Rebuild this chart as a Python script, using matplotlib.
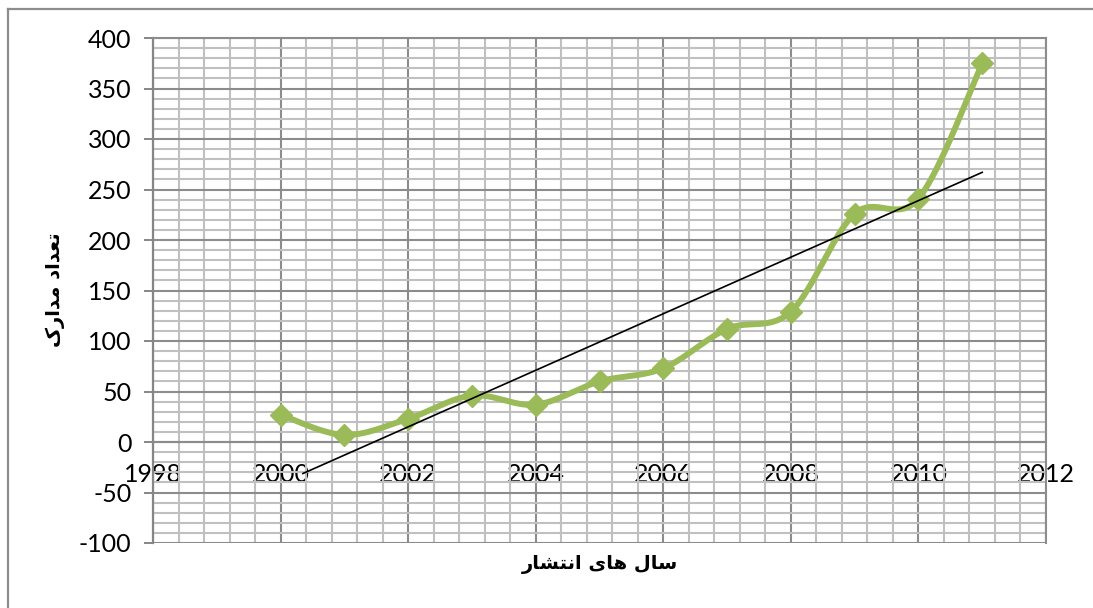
import matplotlib
matplotlib.use('Agg')
import matplotlib.pyplot as plt
from matplotlib.lines import Line2D
from matplotlib.ticker import MultipleLocator
import numpy as np

plt.rcParams['axes.unicode_minus'] = False

years = [2000, 2001, 2002, 2003, 2004, 2005, 2006, 2007, 2008, 2009, 2010, 2011]
docs = [27, 7, 23, 46, 37, 60, 73, 112, 129, 226, 241, 375]
trend_x0 = 2000.35  # visible start of the trendline in the picture

xlabel_text = 'سال های انتشار'
ylabel_text = 'تعداد مدارک'

green = '#9BBB59'
major_c = '#8C8C8C'
minor_c = '#C0C0C0'

# minimal Persian shaping: matplotlib has no text shaping, so use presentation forms
forms = {
    'ت': ('\uFE95', '\uFE96', '\uFE97', '\uFE98'),
    'ع': ('\uFEC9', '\uFECA', '\uFECB', '\uFECC'),
    'د': ('\uFEA9', '\uFEAA', None, None),
    'ا': ('\uFE8D', '\uFE8E', None, None),
    'م': ('\uFEE1', '\uFEE2', '\uFEE3', '\uFEE4'),
    'ر': ('\uFEAD', '\uFEAE', None, None),
    'ک': ('\uFB8E', '\uFB8F', '\uFB90', '\uFB91'),
    'س': ('\uFEB1', '\uFEB2', '\uFEB3', '\uFEB4'),
    'ل': ('\uFEDD', '\uFEDE', '\uFEDF', '\uFEE0'),
    'ه': ('\uFEE9', '\uFEEA', '\uFEEB', '\uFEEC'),
    'ی': ('\uFBFC', '\uFBFD', '\uFBFE', '\uFBFF'),
    'ن': ('\uFEE5', '\uFEE6', '\uFEE7', '\uFEE8'),
    'ش': ('\uFEB5', '\uFEB6', '\uFEB7', '\uFEB8'),
}


def shape(text):
    out = []
    for i, ch in enumerate(text):
        if ch not in forms:
            out.append(ch)
            continue
        prev = text[i - 1] if i > 0 else ' '
        nxt = text[i + 1] if i + 1 < len(text) else ' '
        join_prev = prev in forms and forms[prev][2] is not None
        join_next = nxt in forms and forms[ch][2] is not None
        iso, fin, ini, med = forms[ch]
        if join_prev and join_next:
            out.append(med)
        elif join_prev:
            out.append(fin)
        elif join_next:
            out.append(ini)
        else:
            out.append(iso)
    return ''.join(out)[::-1]


def smooth(xs, ys, n=40):
    # Excel-like smoothed line: bezier with control points at P +/- (Pnext - Pprev)/6
    pts = np.column_stack([xs, ys]).astype(float)
    sx, sy = [], []
    t = np.linspace(0, 1, n)
    for i in range(len(pts) - 1):
        p0 = pts[i - 1] if i > 0 else pts[i]
        p1, p2 = pts[i], pts[i + 1]
        p3 = pts[i + 2] if i + 2 < len(pts) else pts[i + 1]
        c1 = p1 + (p2 - p0) / 6
        c2 = p2 - (p3 - p1) / 6
        b = ((1 - t) ** 3)[:, None] * p1 + (3 * (1 - t) ** 2 * t)[:, None] * c1 \
            + (3 * (1 - t) * t ** 2)[:, None] * c2 + (t ** 3)[:, None] * p2
        sx.extend(b[:, 0])
        sy.extend(b[:, 1])
    return sx, sy


fig = plt.figure(figsize=(10.93, 6.08), dpi=100)
ax = fig.add_axes([153 / 1093, 1 - 543 / 608, (1046 - 153) / 1093, (543 - 38) / 608])

ax.set_xlim(1998, 2012)
ax.set_ylim(-100, 400)
ax.xaxis.set_major_locator(MultipleLocator(2))
ax.xaxis.set_minor_locator(MultipleLocator(0.4))
ax.yaxis.set_major_locator(MultipleLocator(50))
ax.yaxis.set_minor_locator(MultipleLocator(10))
ax.grid(which='minor', color=minor_c, lw=1.5)
ax.grid(which='major', color=major_c, lw=1.5)
ax.set_axisbelow(True)

sx, sy = smooth(years, docs)
ax.plot(sx, sy, color=green, lw=4.3, solid_capstyle='round', zorder=3)
ax.plot(years, docs, 'D', color=green, ms=11, zorder=4)

slope, icpt = np.polyfit(years, docs, 1)
tx = np.array([trend_x0, years[-1]])
ax.plot(tx, slope * tx + icpt, color='black', lw=1.2, zorder=5)

for s in ['top', 'right']:
    ax.spines[s].set_color(major_c)
    ax.spines[s].set_linewidth(1.5)
ax.spines['left'].set_color('#868686')
ax.spines['left'].set_linewidth(1.6)
ax.spines['bottom'].set_position(('data', 0))
ax.spines['bottom'].set_color(major_c)
ax.spines['bottom'].set_linewidth(1.5)

ax.tick_params(axis='y', which='major', direction='out', length=6.5, width=1.4,
               color='#868686', pad=9, labelsize=18)
ax.tick_params(axis='y', which='minor', length=0)
ax.tick_params(axis='x', which='both', length=0, pad=15, labelsize=18)
for lab in ax.get_xticklabels() + ax.get_yticklabels():
    lab.set_family(['Lato', 'DejaVu Sans'])

fig.text(600 / 1093, 1 - 565 / 608, shape(xlabel_text), ha='center', va='center',
         fontsize=14, fontweight='bold', family=['DejaVu Sans'])
fig.text(55 / 1093, 1 - 290 / 608, shape(ylabel_text), ha='center', va='center',
         rotation=90, fontsize=14, fontweight='bold', family=['DejaVu Sans'])

# outer chart-area border (only left and top are visible in the image)
fig.add_artist(Line2D([7.5 / 1093, 7.5 / 1093], [0, 1 - 8.5 / 608], transform=fig.transFigure,
                      color=major_c, lw=1.6))
fig.add_artist(Line2D([7.5 / 1093, 1], [1 - 8.5 / 608, 1 - 8.5 / 608], transform=fig.transFigure,
                      color=major_c, lw=1.6))

fig.savefig('out.png', dpi=100)
